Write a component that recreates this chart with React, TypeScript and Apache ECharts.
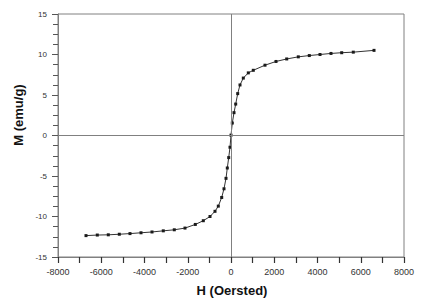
import React, { useEffect, useRef } from "react";
import * as echarts from "echarts";

// Applied field H (Oe) and magnetization M (emu/g)
const hField = [
  -6705, -6183, -5674, -5165, -4671, -4162, -3653, -3131, -2622, -2127,
  -1650, -1281, -971, -740, -587, -430, -324, -231, -171, -106, -46, 0,
  60, 139, 217, 310, 416, 569, 800, 1031, 1572, 2081, 2576, 3112, 3621,
  4116, 4624, 5119, 5655, 6613,
];
const magnetization = [
  -12.36, -12.29, -12.26, -12.19, -12.11, -12.01, -11.91, -11.77, -11.64, -11.43,
  -10.98, -10.52, -10.0, -9.36, -8.72, -7.65, -6.58, -5.29, -4.01, -2.73, -1.45, 0.04,
  1.54, 2.82, 3.88, 5.17, 6.24, 7.09, 7.73, 8.05, 8.68, 9.14, 9.45, 9.71, 9.87,
  10.0, 10.13, 10.22, 10.29, 10.51,
];

const xMin = -8000;
const xMax = 8000;
const xLabelStep = 2000;
const yMin = -15;
const yMax = 15;
const yLabelStep = 5;

const xTitle = "H (Oersted)";
const yTitle = "M (emu/g)";

export default function App() {
  const ref = useRef<HTMLDivElement>(null);
  useEffect(() => {
    if (!ref.current) return;
    const chart = echarts.init(ref.current, undefined, { renderer: "svg" });
    const gray = "#808080";
    const font = "Liberation Sans, Arial, sans-serif";
    const points = hField.map((h, i) => [h, magnetization[i]]);
    chart.setOption({
      animation: false,
      backgroundColor: "#ffffff",
      grid: {
        left: 58,
        top: 14,
        width: 346,
        height: 243,
        show: true,
        borderColor: gray,
        borderWidth: 1,
        backgroundColor: "transparent",
      },
      xAxis: {
        type: "value",
        min: xMin,
        max: xMax,
        interval: xLabelStep,
        axisLine: { show: true, onZero: false, lineStyle: { color: gray, width: 1 } },
        axisTick: { show: true, length: 6, lineStyle: { color: "#333", width: 1.2 } },
        minorTick: { show: true, splitNumber: 2, length: 6, lineStyle: { color: "#333", width: 1.2 } },
        splitLine: { show: false },
        minorSplitLine: { show: false },
        axisLabel: {
          color: "#333",
          fontSize: 9,
          fontFamily: font,
          margin: 10,
          formatter: (v: number) => String(v),
        },
      },
      yAxis: {
        type: "value",
        min: yMin,
        max: yMax,
        interval: yLabelStep,
        axisLine: { show: true, onZero: false, lineStyle: { color: gray, width: 1 } },
        axisTick: { show: true, length: 6, lineStyle: { color: "#555" } },
        minorTick: { show: true, splitNumber: 4, length: 5, lineStyle: { color: "#555" } },
        splitLine: { show: false },
        axisLabel: {
          color: "#333",
          fontSize: 8,
          fontFamily: font,
          margin: 11,
        },
      },
      graphic: [
        {
          type: "text",
          x: 232,
          y: 290,
          style: {
            text: xTitle,
            fill: "#111",
            font: `bold 13px ${font}`,
            align: "center",
            verticalAlign: "middle",
          },
        },
        {
          type: "text",
          x: 18,
          y: 115,
          rotation: Math.PI / 2,
          style: {
            text: yTitle,
            fill: "#111",
            font: `bold 13px ${font}`,
            align: "center",
            verticalAlign: "middle",
          },
        },
      ],
      series: [
        {
          type: "line",
          data: points,
          symbol: "rect",
          symbolSize: 3,
          showSymbol: true,
          itemStyle: { color: "#1a1a1a" },
          lineStyle: { color: "#333", width: 1 },
          markLine: {
            silent: true,
            symbol: "none",
            label: { show: false },
            lineStyle: { color: gray, width: 1, type: "solid" },
            data: [{ xAxis: 0 }, { yAxis: 0 }],
          },
        },
      ],
    });
    return () => chart.dispose();
  }, []);
  return <div ref={ref} style={{ width: 425, height: 298, position: "absolute", left: 0, top: 0 }} />;
}
